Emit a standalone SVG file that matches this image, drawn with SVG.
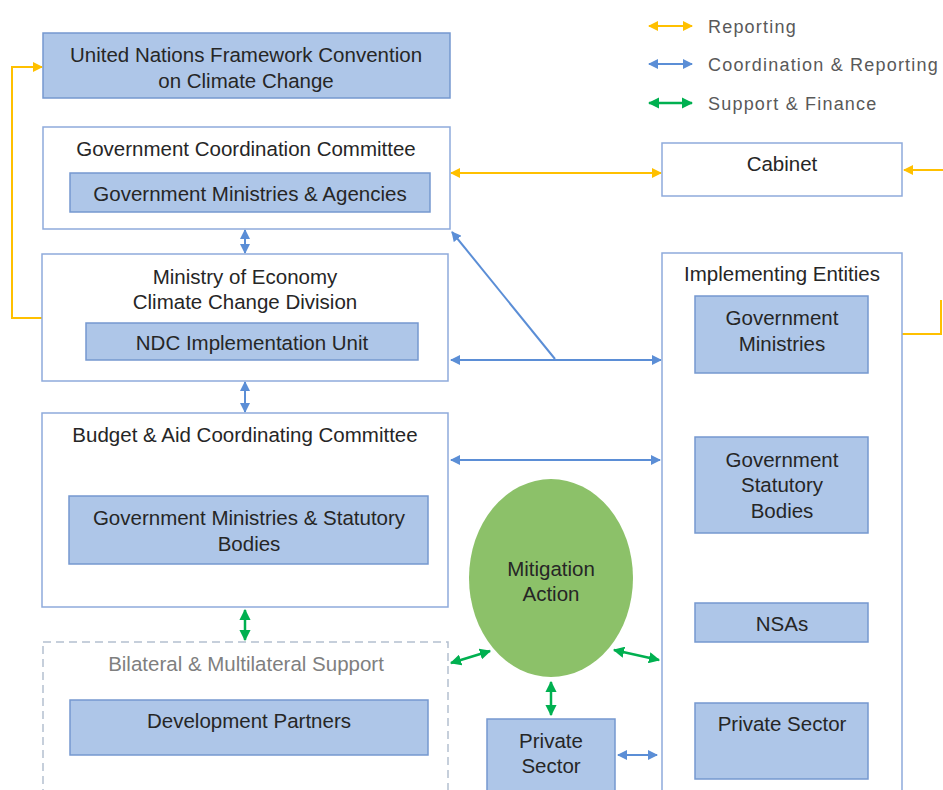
<svg xmlns="http://www.w3.org/2000/svg" width="943" height="790" viewBox="0 0 943 790">
<style>
text{font-family:"Liberation Sans",Arial,sans-serif;fill:#262626;font-size:20.5px;text-anchor:middle}
.blue{fill:#aec6e8;stroke:#7598cf;stroke-width:1.5}
.outer{fill:#fff;stroke:#8eaadb;stroke-width:1.5}
.dash{fill:#fff;stroke:#b4c0d0;stroke-width:1.5;stroke-dasharray:8 5}
.y{stroke:#ffc000;stroke-width:2;fill:none}
.b{stroke:#5b8ed6;stroke-width:2;fill:none}
.g{stroke:#00b050;stroke-width:2.5;fill:none}
.leg{font-size:18px;letter-spacing:1.2px;fill:#595959;text-anchor:start}
</style>
<defs>
<marker id="ay" viewBox="0 0 10 10" refX="9" refY="5" markerWidth="5" markerHeight="5" orient="auto-start-reverse"><path d="M0,0L10,5L0,10z" fill="#ffc000"/></marker>
<marker id="ab" viewBox="0 0 10 10" refX="9" refY="5" markerWidth="5" markerHeight="5" orient="auto-start-reverse"><path d="M0,0L10,5L0,10z" fill="#5b8ed6"/></marker>
<marker id="ag" viewBox="0 0 10 10" refX="9" refY="5" markerWidth="4.5" markerHeight="4.5" orient="auto-start-reverse"><path d="M0,0L10,5L0,10z" fill="#00b050"/></marker>
</defs>

<g id="legend">
<line class="y" x1="649" y1="26" x2="692" y2="26" marker-start="url(#ay)" marker-end="url(#ay)"/>
<text class="leg" x="708" y="33">Reporting</text>
<line class="b" x1="649" y1="64" x2="692" y2="64" marker-start="url(#ab)" marker-end="url(#ab)"/>
<text class="leg" x="708" y="71">Coordination &amp; Reporting</text>
<line class="g" x1="649" y1="103" x2="692" y2="103" marker-start="url(#ag)" marker-end="url(#ag)"/>
<text class="leg" x="708" y="110">Support &amp; Finance</text>
</g>

<g id="connectors">
<polyline class="y" points="42,318 12,318 12,67 42,67" marker-end="url(#ay)"/>
<line class="y" x1="451" y1="173" x2="661" y2="173" marker-start="url(#ay)" marker-end="url(#ay)"/>
<line class="y" x1="943" y1="170" x2="904" y2="170" marker-end="url(#ay)"/>
<polyline class="y" points="869,334 941,334 941,300"/>
<line class="b" x1="245" y1="230" x2="245" y2="253" marker-start="url(#ab)" marker-end="url(#ab)"/>
<line class="b" x1="245" y1="382" x2="245" y2="412" marker-start="url(#ab)" marker-end="url(#ab)"/>
<line class="b" x1="451" y1="360" x2="661" y2="360" marker-start="url(#ab)" marker-end="url(#ab)"/>
<line class="b" x1="555" y1="359" x2="452" y2="232" marker-end="url(#ab)"/>
<line class="b" x1="451" y1="460" x2="660" y2="460" marker-start="url(#ab)" marker-end="url(#ab)"/>
<line class="b" x1="618" y1="755" x2="657" y2="755" marker-start="url(#ab)" marker-end="url(#ab)"/>
<line class="g" x1="245" y1="610" x2="245" y2="640" marker-start="url(#ag)" marker-end="url(#ag)"/>
<line class="g" x1="451" y1="663" x2="490" y2="651" marker-start="url(#ag)" marker-end="url(#ag)"/>
<line class="g" x1="614" y1="650" x2="659" y2="660" marker-start="url(#ag)" marker-end="url(#ag)"/>
<line class="g" x1="551" y1="682" x2="551" y2="715" marker-start="url(#ag)" marker-end="url(#ag)"/>
</g>

<g id="unfccc">
<rect class="blue" x="43" y="33" width="407" height="65"/>
<text x="246" y="62">United Nations Framework Convention</text>
<text x="246" y="88">on Climate Change</text>
</g>

<g id="gcc">
<rect class="outer" x="43" y="127" width="407" height="102"/>
<text x="246" y="156">Government Coordination Committee</text>
</g>
<g id="gma">
<rect class="blue" x="70" y="173" width="360" height="39"/>
<text x="250" y="201">Government Ministries &amp; Agencies</text>
</g>

<g id="moe">
<rect class="outer" x="42" y="254" width="406" height="127"/>
<text x="245" y="284">Ministry of Economy</text>
<text x="245" y="309">Climate Change Division</text>
</g>
<g id="ndc">
<rect class="blue" x="86" y="323" width="332" height="37"/>
<text x="252" y="350">NDC Implementation Unit</text>
</g>

<g id="bacc">
<rect class="outer" x="42" y="413" width="406" height="194"/>
<text x="245" y="442">Budget &amp; Aid Coordinating Committee</text>
</g>
<g id="gmsb">
<rect class="blue" x="69" y="496" width="359" height="68"/>
<text x="249" y="525">Government Ministries &amp; Statutory</text>
<text x="249" y="551">Bodies</text>
</g>

<g id="bms">
<rect class="dash" x="43" y="642" width="405" height="160"/>
<text x="246" y="671" style="fill:#7f7f7f">Bilateral &amp; Multilateral Support</text>
</g>
<g id="dp">
<rect class="blue" x="70" y="700" width="358" height="55"/>
<text x="249" y="728">Development Partners</text>
</g>

<g id="cabinet">
<rect class="outer" x="662" y="143" width="240" height="53"/>
<text x="782" y="171">Cabinet</text>
</g>

<g id="ie">
<rect class="outer" x="662" y="253" width="240" height="550"/>
<text x="782" y="281">Implementing Entities</text>
</g>
<g id="gm">
<rect class="blue" x="695" y="296" width="173" height="77"/>
<text x="782" y="325">Government</text>
<text x="782" y="351">Ministries</text>
</g>
<g id="gsb">
<rect class="blue" x="695" y="437" width="173" height="96"/>
<text x="782" y="467">Government</text>
<text x="782" y="492">Statutory</text>
<text x="782" y="518">Bodies</text>
</g>
<g id="nsa">
<rect class="blue" x="695" y="603" width="173" height="39"/>
<text x="782" y="631">NSAs</text>
</g>
<g id="ps2">
<rect class="blue" x="695" y="703" width="173" height="76"/>
<text x="782" y="731">Private Sector</text>
</g>

<g id="mitigation">
<ellipse cx="551" cy="578" rx="82" ry="99" fill="#8cc169"/>
<text x="551" y="576">Mitigation</text>
<text x="551" y="601">Action</text>
</g>

<g id="ps1">
<rect class="blue" x="487" y="719" width="128" height="80"/>
<text x="551" y="748">Private</text>
<text x="551" y="773">Sector</text>
</g>
</svg>
